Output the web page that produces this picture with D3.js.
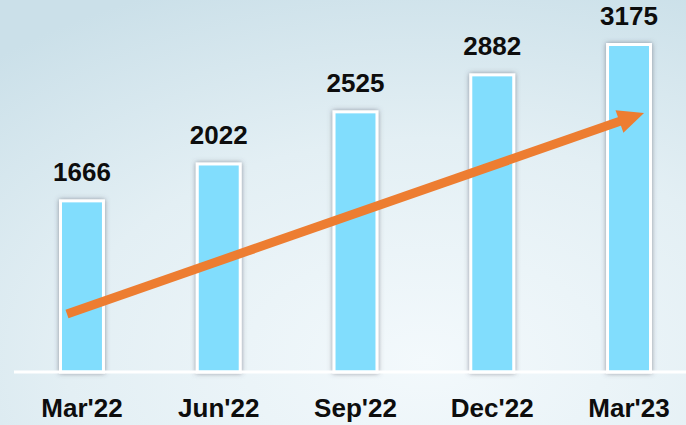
<!DOCTYPE html>
<html>
<head>
<meta charset="utf-8">
<script src="https://cdn.jsdelivr.net/npm/d3@7/dist/d3.min.js"></script>
<style>
  html, body { margin: 0; padding: 0; overflow: hidden; }
  svg { display: block; }
</style>
</head>
<body>
<svg id="chart" width="686" height="425"></svg>
<script>
// data
let quarters = ["Mar'22", "Jun'22", "Sep'22", "Dec'22", "Mar'23"]
let counts = [1666, 2022, 2525, 2882, 3175]
// trend arrow, in value units (start / end)
let trend = [560, 2500]

let width = 686
let height = 425
let baseY = 372

let svg = d3.select('#chart')
let defs = svg.append('defs')

// background
let grad = defs.append('radialGradient')
  .attr('id', 'bg')
  .attr('cx', '0.62').attr('cy', '0.85').attr('r', '0.95')
grad.append('stop').attr('offset', '0%').attr('stop-color', '#f3f9fc')
grad.append('stop').attr('offset', '55%').attr('stop-color', '#e3eff4')
grad.append('stop').attr('offset', '100%').attr('stop-color', '#cbe0e9')

svg.append('rect')
  .attr('width', width).attr('height', height)
  .attr('fill', 'url(#bg)')

// bar shadow
let shadow = defs.append('filter')
  .attr('id', 'shadow')
  .attr('x', '-30%').attr('y', '-10%').attr('width', '160%').attr('height', '120%')
shadow.append('feDropShadow')
  .attr('dx', 0).attr('dy', 0)
  .attr('stdDeviation', 2.5)
  .attr('flood-color', '#556')
  .attr('flood-opacity', 0.6)

let x = d3.scaleBand()
  .domain(quarters)
  .range([13.6, 697.4])
  .paddingInner(0.664)
  .paddingOuter(0.332)

let y = d3.scaleLinear()
  .domain([0, 3175])
  .range([baseY, 43])

let bw = x.bandwidth()

// bars
svg.append('g')
  .selectAll('rect')
  .data(counts)
  .enter()
  .append('rect')
  .attr('x', (d, i) => x(quarters[i]) + 1.5)
  .attr('y', d => y(d) + 1.5)
  .attr('width', bw - 3)
  .attr('height', d => baseY - y(d) - 1.5)
  .attr('fill', '#81ddfd')
  .attr('stroke', '#ffffff')
  .attr('stroke-width', 3)
  .attr('filter', 'url(#shadow)')

// baseline
svg.append('line')
  .attr('x1', 14).attr('x2', width)
  .attr('y1', baseY).attr('y2', baseY)
  .attr('stroke', '#ffffff')
  .attr('stroke-width', 3)

// value labels
svg.append('g')
  .selectAll('text')
  .data(counts)
  .enter()
  .append('text')
  .attr('x', (d, i) => x(quarters[i]) + bw / 2)
  .attr('y', d => y(d) - 18)
  .attr('text-anchor', 'middle')
  .style('font-family', 'Liberation Sans, Arial, sans-serif')
  .style('font-weight', 'bold')
  .style('font-size', '26px')
  .style('fill', '#0d0d0d')
  .text(d => d)

// category labels
svg.append('g')
  .selectAll('text')
  .data(quarters)
  .enter()
  .append('text')
  .attr('x', d => x(d) + bw / 2)
  .attr('y', 417)
  .attr('text-anchor', 'middle')
  .style('font-family', 'Liberation Sans, Arial, sans-serif')
  .style('font-weight', 'bold')
  .style('font-size', '26px')
  .style('fill', '#0d0d0d')
  .text(d => d)

// trend arrow
let x0 = x(quarters[0]) + bw / 2 - 15
let y0 = y(trend[0])
let x1 = x(quarters[quarters.length - 1]) + bw / 2 + 15
let y1 = y(trend[1])
let ang = Math.atan2(y1 - y0, x1 - x0)
let headLen = 26
let headW = 12
let bx = x1 - headLen * Math.cos(ang)
let by = y1 - headLen * Math.sin(ang)
let nx = -Math.sin(ang)
let ny = Math.cos(ang)

svg.append('line')
  .attr('x1', x0).attr('y1', y0)
  .attr('x2', bx + 2 * Math.cos(ang)).attr('y2', by + 2 * Math.sin(ang))
  .attr('stroke', '#ed7d31')
  .attr('stroke-width', 9)

svg.append('path')
  .attr('d', `M${x1},${y1}L${bx + headW * nx},${by + headW * ny}L${bx - headW * nx},${by - headW * ny}Z`)
  .attr('fill', '#ed7d31')
</script>
</body>
</html>
